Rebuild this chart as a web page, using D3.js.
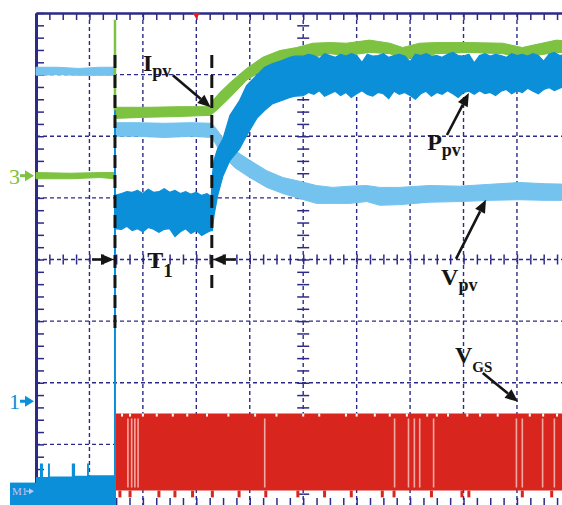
<!DOCTYPE html>
<html>
<head>
<meta charset="utf-8">
<script src="https://cdn.jsdelivr.net/npm/d3@7"></script>
<style>
  html, body { margin: 0; padding: 0; background: #fff; }
  svg { display: block; }
</style>
</head>
<body>
<svg id="scope" width="562" height="505"></svg>
<script>
// Screen units: time in divisions 0..10, amplitude in divisions -4..+4 (0 = centre line)

// Channel 3 (Ipv, green) envelope
const ipvT   = [0, 0.64, 1.2, 1.47, 1.48, 2.13, 2.69, 3.27, 3.31, 3.44, 3.63, 3.94, 4.24, 4.56, 4.88, 5.18, 5.50, 5.81, 6.24, 6.62, 6.86, 7.18, 7.49, 8.11, 8.73, 9.10, 9.74, 10];
const ipvTop = [1.41, 1.40, 1.41, 1.41, 2.47, 2.47, 2.48, 2.48, 2.58, 2.71, 2.87, 3.10, 3.28, 3.39, 3.44, 3.51, 3.52, 3.51, 3.56, 3.51, 3.44, 3.51, 3.52, 3.52, 3.51, 3.44, 3.56, 3.54];
const ipvBot = [1.31, 1.31, 1.33, 1.31, 2.29, 2.31, 2.32, 2.34, 2.37, 2.47, 2.63, 2.91, 3.07, 3.18, 3.26, 3.28, 3.34, 3.31, 3.36, 3.34, 3.26, 3.28, 3.34, 3.36, 3.34, 3.28, 3.36, 3.36];

// Channel 2 (Vpv, light blue) envelope
const vpvT   = [0, 0.4, 0.8, 1.2, 1.47, 1.48, 1.9, 2.4, 2.9, 3.29, 3.40, 3.53, 3.72, 4.0, 4.32, 4.62, 4.93, 5.25, 5.55, 5.87, 6.19, 6.43, 6.8, 7.36, 7.93, 8.49, 9.05, 9.51, 10];
const vpvTop = [3.12, 3.12, 3.10, 3.12, 3.12, 2.22, 2.22, 2.21, 2.22, 2.21, 2.09, 1.93, 1.77, 1.61, 1.44, 1.33, 1.27, 1.20, 1.17, 1.19, 1.20, 1.17, 1.17, 1.20, 1.19, 1.22, 1.25, 1.23, 1.22];
const vpvBot = [2.99, 3.00, 2.99, 2.99, 2.99, 2.00, 2.00, 1.98, 2.00, 1.98, 1.82, 1.66, 1.49, 1.33, 1.17, 1.07, 0.99, 0.91, 0.91, 0.91, 0.94, 0.88, 0.89, 0.93, 0.94, 0.96, 0.97, 0.96, 0.96];

// Math trace (Ppv, dark blue) envelope
const ppvT = [
  1.48, 1.6, 1.7, 1.8, 1.9, 2.0, 2.1, 2.2, 2.3, 2.4, 2.5, 2.6, 2.7, 2.8, 2.9, 3.0, 3.1, 3.2, 3.28,
  3.30, 3.33, 3.40, 3.50, 3.63, 3.81, 3.94, 4.13, 4.28, 4.43, 4.60, 4.75, 4.85,
  5.0, 5.1, 5.2, 5.3, 5.4, 5.5, 5.6, 5.7, 5.8, 5.9, 6.0, 6.1, 6.2, 6.3, 6.4, 6.5, 6.6, 6.7, 6.8, 6.9,
  7.0, 7.1, 7.2, 7.3, 7.4, 7.5, 7.6, 7.7, 7.8, 7.9, 8.0, 8.1, 8.2, 8.3, 8.4, 8.5, 8.6, 8.7, 8.8, 8.9,
  9.0, 9.1, 9.2, 9.3, 9.4, 9.5, 9.6, 9.7, 9.8, 9.9, 10.0];
const ppvTop = [
  1.04, 1.07, 1.10, 1.09, 1.12, 1.07, 1.14, 1.09, 1.10, 1.15, 1.09, 1.12, 1.07, 1.10, 1.06, 1.09, 1.04, 1.07, 1.02,
  1.36, 1.61, 1.80, 1.96, 2.34, 2.58, 2.82, 2.99, 3.12, 3.18, 3.23, 3.28, 3.30,
  3.30, 3.33, 3.31, 3.26, 3.34, 3.31, 3.28, 3.33, 3.30, 3.34, 3.31, 3.20, 3.33, 3.30, 3.31, 3.34, 3.28, 3.31, 3.33, 3.30,
  3.21, 3.33, 3.31, 3.34, 3.30, 3.31, 3.28, 3.33, 3.36, 3.31, 3.30, 3.33, 3.19, 3.31, 3.34, 3.30, 3.33, 3.31, 3.28, 3.34,
  3.31, 3.33, 3.30, 3.34, 3.31, 3.22, 3.33, 3.36, 3.31, 3.33, 3.31];
const ppvBot = [
  0.50, 0.49, 0.54, 0.47, 0.50, 0.45, 0.52, 0.49, 0.44, 0.49, 0.50, 0.37, 0.45, 0.50, 0.42, 0.47, 0.39, 0.44, 0.47,
  0.47, 0.71, 1.04, 1.36, 1.61, 1.80, 2.01, 2.29, 2.42, 2.53, 2.58, 2.63, 2.65,
  2.66, 2.71, 2.68, 2.74, 2.65, 2.69, 2.73, 2.66, 2.71, 2.63, 2.69, 2.74, 2.68, 2.65, 2.71, 2.69, 2.61, 2.73, 2.68, 2.71,
  2.66, 2.60, 2.69, 2.73, 2.65, 2.71, 2.68, 2.74, 2.69, 2.63, 2.71, 2.73, 2.68, 2.74, 2.69, 2.71, 2.66, 2.73, 2.76, 2.69,
  2.74, 2.71, 2.78, 2.73, 2.69, 2.76, 2.79, 2.74, 2.78, 2.81, 2.78];

// Channel 1 before gating starts (dark blue, bottom of screen)
const m1T   = [0, 0.075, 0.13, 0.225, 0.26, 0.67, 0.73, 0.955, 0.99, 1.478];
const m1Top = [-3.53, -3.31, -3.53, -3.31, -3.52, -3.31, -3.51, -3.31, -3.50, -3.50];

// Channel 1 (VGS, red) PWM band
const vgsT    = [1.49, 10];
const vgsHigh = [-2.5, -2.5];
const vgsLow  = [-3.75, -3.75];
const vgsGaps    = [1.72, 1.79, 1.85, 1.91, 4.28, 6.71, 6.97, 7.08, 7.18, 7.44, 8.99, 9.10, 9.48, 9.70];
const vgsDips    = [1.57, 1.76, 2.30, 2.60, 2.93, 3.30, 3.80, 4.30, 4.90, 5.40, 5.90, 6.48, 6.70, 7.40, 7.97, 8.10, 9.10, 9.65];
const vgsNotches = [1.61, 1.76, 2.00, 2.26, 2.56, 2.83, 3.20, 3.60, 4.10, 4.50, 5.00, 5.30, 5.80, 6.00, 6.34, 6.62, 6.94, 7.32, 7.50, 7.71, 8.07, 8.31, 8.64, 9.24, 9.49, 9.75];

// Event times
const triggerT = 3.0;
const stepT = 1.478;   // gating starts
const settleT = 3.29;  // end of interval T1

const C = {
  navy: "#2c2a86", green: "#7dc241", light: "#74c3ef", dark: "#0b8fd8",
  red: "#d8261f", pink: "#f4a8a2", ink: "#151515", lavender: "#c8c4f0"
};

const svg = d3.select("#scope");
const x = d3.scaleLinear().domain([0, 10]).range([36, 570.4]);
const y = d3.scaleLinear().domain([-4, 4]).range([506, 13]);

// ---------- graticule ----------
const grid = svg.append("g").attr("stroke", C.navy).attr("stroke-width", 1.4).attr("stroke-dasharray", "4,3");
grid.selectAll("line.gv").data(d3.range(1, 10)).join("line").attr("class", "gv")
  .attr("x1", d => x(d)).attr("x2", d => x(d)).attr("y1", y(4)).attr("y2", y(-4));
grid.selectAll("line.gh").data(d3.range(-3, 4)).join("line").attr("class", "gh")
  .attr("x1", x(0)).attr("x2", x(10)).attr("y1", d => y(d)).attr("y2", d => y(d));

const minorX = d3.range(0, 10.001, 0.25);
const minorY = d3.range(-4, 4.001, 0.2);

function styleAxis(g, domainWidth) {
  g.attr("color", C.navy);
  g.selectAll(".tick line").attr("stroke-width", 1.5);
  g.selectAll(".tick text").remove();
  if (domainWidth) g.select(".domain").attr("stroke-width", domainWidth);
  else g.select(".domain").remove();
}
svg.append("g").attr("transform", `translate(0,${y(4)})`)
  .call(d3.axisBottom(x).tickValues(minorX).tickSize(7).tickSizeOuter(0).tickFormat(""))
  .call(g => styleAxis(g, 2.5));
svg.append("g").attr("transform", `translate(0,${y(-4)})`)
  .call(d3.axisTop(x).tickValues(minorX).tickSize(8).tickSizeOuter(0).tickFormat(""))
  .call(g => styleAxis(g, 2.5));
svg.append("g").attr("transform", `translate(${x(0)},0)`)
  .call(d3.axisRight(y).tickValues(minorY).tickSize(8).tickSizeOuter(0).tickFormat(""))
  .call(g => styleAxis(g, 3));
svg.append("g").attr("transform", `translate(${x(10)},0)`)
  .call(d3.axisLeft(y).tickValues(minorY).tickSize(8).tickSizeOuter(0).tickFormat(""))
  .call(g => styleAxis(g, 3));
// centre cross ticks
[d3.axisTop(x), d3.axisBottom(x)].forEach(a => {
  svg.append("g").attr("transform", `translate(0,${y(0)})`)
    .call(a.tickValues(minorX.filter(d => d > 0 && d < 10)).tickSize(5).tickSizeOuter(0).tickFormat(""))
    .call(g => styleAxis(g, 0));
});
[d3.axisLeft(y), d3.axisRight(y)].forEach(a => {
  svg.append("g").attr("transform", `translate(${x(5)},0)`)
    .call(a.tickValues(minorY.filter(d => d > -3.99 && d < 3.99)).tickSize(6).tickSizeOuter(0).tickFormat(""))
    .call(g => styleAxis(g, 0));
});

// ---------- traces ----------
function band(ts, tops, bots, curve) {
  const pts = ts.map((t, i) => ({ t, top: tops[i], bot: bots[i] }));
  return d3.area().x(d => x(d.t)).y0(d => y(d.bot)).y1(d => y(d.top)).curve(curve)(pts);
}

// Ipv
svg.append("path").attr("d", band(ipvT, ipvTop, ipvBot, d3.curveLinear))
  .attr("fill", C.green).attr("stroke", C.green).attr("stroke-width", 1);
// Vpv
svg.append("path").attr("d", band(vpvT, vpvTop, vpvBot, d3.curveLinear))
  .attr("fill", C.light).attr("stroke", C.light).attr("stroke-width", 1);
// Ppv
svg.append("path").attr("d", band(ppvT, ppvTop, ppvBot, d3.curveLinear))
  .attr("fill", C.dark).attr("stroke", C.dark).attr("stroke-width", 1.2).attr("stroke-linejoin", "miter");
// Channel 1 before gating
svg.append("path").attr("d", band(m1T, m1Top, m1T.map(() => -4.1), d3.curveStepAfter))
  .attr("fill", C.dark);

// VGS band
svg.append("path").attr("d", band(vgsT, vgsHigh, vgsLow, d3.curveLinear)).attr("fill", C.red);
svg.selectAll("rect.dip").data(vgsDips).join("rect").attr("class", "dip")
  .attr("x", d => x(d) - 1.5).attr("width", 3)
  .attr("y", y(vgsLow[0])).attr("height", y(-3.86) - y(vgsLow[0])).attr("fill", C.red);
svg.selectAll("rect.notch").data(vgsNotches).join("rect").attr("class", "notch")
  .attr("x", d => x(d) - 1).attr("width", 2)
  .attr("y", y(vgsHigh[0])).attr("height", 3).attr("fill", "#fff");
svg.selectAll("line.gap").data(vgsGaps).join("line").attr("class", "gap")
  .attr("x1", d => x(d)).attr("x2", d => x(d)).attr("y1", y(-2.58)).attr("y2", y(-3.70))
  .attr("stroke", C.pink).attr("stroke-width", 1.6);

// step edges at the start of gating
svg.append("line").attr("x1", x(stepT)).attr("x2", x(stepT)).attr("y1", y(2.99)).attr("y2", y(-4))
  .attr("stroke", C.dark).attr("stroke-width", 2);
svg.append("line").attr("x1", x(stepT)).attr("x2", x(stepT)).attr("y1", y(3.89)).attr("y2", y(2.42))
  .attr("stroke", C.green).attr("stroke-width", 2.5);

// interval markers
[[stepT, -1.15], [settleT, -0.53]].forEach(([t, v]) => {
  svg.append("line").attr("x1", x(t)).attr("x2", x(t)).attr("y1", y(3.32)).attr("y2", y(v))
    .attr("stroke", C.ink).attr("stroke-width", 3).attr("stroke-dasharray", "13,7");
});

// ---------- annotations ----------
function arrow(t1, v1, t2, v2) {
  const x1 = x(t1), y1 = y(v1), x2 = x(t2), y2 = y(v2);
  const ang = Math.atan2(y2 - y1, x2 - x1), L = 13, W = 5.5;
  const bx = x2 - L * Math.cos(ang), by = y2 - L * Math.sin(ang);
  svg.append("line").attr("x1", x1).attr("y1", y1).attr("x2", bx).attr("y2", by)
    .attr("stroke", C.ink).attr("stroke-width", 2.6);
  const px = -Math.sin(ang) * W, py = Math.cos(ang) * W;
  svg.append("path").attr("d", `M${x2},${y2}L${bx + px},${by + py}L${bx - px},${by - py}Z`).attr("fill", C.ink);
}
arrow(2.56, 2.99, 3.27, 2.47);   // Ipv
arrow(7.69, 2.02, 8.10, 2.70);   // Ppv
arrow(7.86, 0.01, 8.42, 0.97);   // Vpv
arrow(8.36, -1.84, 9.02, -2.31); // VGS
arrow(1.05, 0, 1.46, 0);         // T1 left
arrow(3.74, 0, 3.31, 0);         // T1 right

function label(t, v, main, sub, subSize, subDy) {
  const tx = svg.append("text").attr("x", x(t)).attr("y", y(v))
    .attr("font-family", "'Liberation Serif', 'Times New Roman', serif")
    .attr("font-weight", "bold").attr("fill", C.ink).attr("font-size", 24);
  tx.append("tspan").text(main);
  tx.append("tspan").attr("font-size", subSize).attr("dy", subDy).text(sub);
}
label(2.00, 3.06, "I", "pv", 18, 6);
label(7.32, 1.78, "P", "pv", 18, 6);
label(7.58, -0.41, "V", "pv", 18, 6);
label(7.84, -1.68, "V", "GS", 15, 9);
label(2.08, -0.14, "T", "1", 19, 9);

// channel reference markers
function chanMarker(v, txt, color) {
  const yy = y(v);
  svg.append("text").attr("x", 9).attr("y", yy + 8).text(txt)
    .attr("font-family", "'Liberation Serif', 'Times New Roman', serif")
    .attr("font-size", 22).attr("fill", color);
  svg.append("rect").attr("x", 20).attr("y", yy - 1.5).attr("width", 6).attr("height", 3).attr("fill", color);
  svg.append("path").attr("d", `M25,${yy - 5.5}L34,${yy}L25,${yy + 5.5}Z`).attr("fill", color);
}
chanMarker(1.36, "3", C.green);
chanMarker(-2.30, "1", C.dark);

// math reference marker
const m1y = y(-3.76);
svg.append("rect").attr("x", 10).attr("y", y(-3.62)).attr("width", x(0) - 10).attr("height", y(-4) - y(-3.62)).attr("fill", C.dark);
svg.append("text").attr("x", 12).attr("y", m1y + 4).text("M1")
  .attr("font-family", "'Liberation Serif', 'Times New Roman', serif").attr("font-size", 11).attr("fill", C.lavender);
svg.append("line").attr("x1", 26).attr("x2", 30).attr("y1", m1y).attr("y2", m1y).attr("stroke", C.lavender).attr("stroke-width", 1.2);
svg.append("path").attr("d", `M29,${m1y - 3}L34,${m1y}L29,${m1y + 3}Z`).attr("fill", C.lavender);

// trigger position
svg.append("path").attr("d", `M${x(triggerT) - 3.5},${y(4)}L${x(triggerT) + 3.5},${y(4)}L${x(triggerT)},${y(4) + 6}Z`).attr("fill", "#e02020");
</script>
</body>
</html>
